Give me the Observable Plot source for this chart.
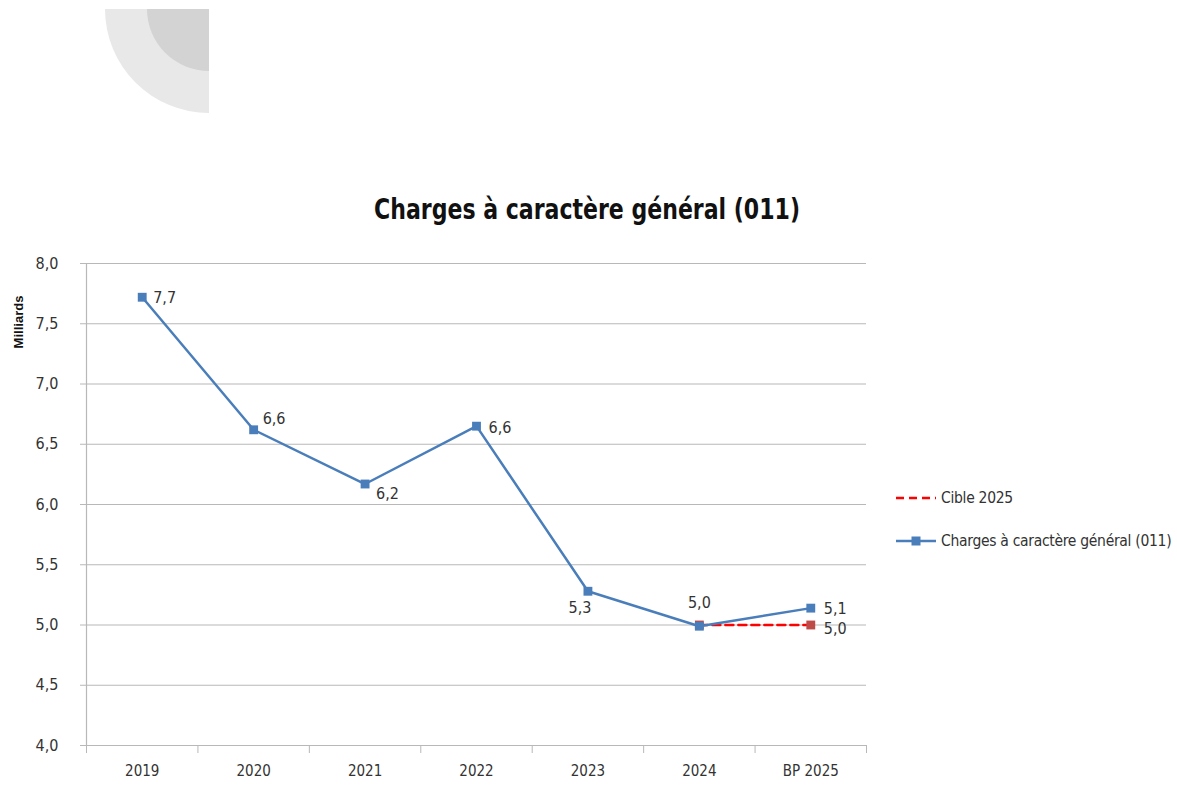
<!DOCTYPE html>
<html><head><meta charset="utf-8">
<script src="https://cdn.jsdelivr.net/npm/d3@7"></script>
<script src="https://cdn.jsdelivr.net/npm/@observablehq/plot@0.6"></script>
<style>
body{margin:0;background:#fff;width:1177px;height:786px;position:relative;overflow:hidden;font-family:"Liberation Sans Narrow","DejaVu Sans Condensed","Open Sans",sans-serif;color:#333;}
#deco1{position:absolute;left:105px;top:9px;width:104px;height:104px;background:#e8e8e8;border-bottom-left-radius:104px;}
#deco2{position:absolute;left:147px;top:9px;width:62px;height:62px;background:#d3d3d3;border-bottom-left-radius:62px;}
#title{position:absolute;top:193px;left:587px;transform:translateX(-50%) scaleX(0.875);transform-origin:center;font-size:28px;font-weight:bold;color:#111;white-space:nowrap;}
#ylab{position:absolute;left:18px;top:322px;transform:translate(-50%,-50%) rotate(-90deg);font-family:"Liberation Sans",Arial,sans-serif;font-weight:bold;font-size:13px;color:#111;white-space:nowrap;}
#chart{position:absolute;left:0;top:0;}
.leg{position:absolute;left:896px;display:flex;align-items:center;font-size:15.5px;letter-spacing:-0.3px;color:#333;white-space:nowrap;}
.leg svg{margin-right:5px;}
</style>
</head><body>
<div id="deco1"></div><div id="deco2"></div>
<div id="chart"></div>
<div id="title">Charges à caractère général (011)</div>
<div id="ylab">Milliards</div>
<div class="leg" style="top:489px"><svg width="40" height="12"><line x1="0" y1="6" x2="40" y2="6" stroke="#ff0000" stroke-width="2.5" stroke-dasharray="8,5"/></svg>Cible 2025</div>
<div class="leg" style="top:532px"><svg width="40" height="12"><line x1="0" y1="6" x2="40" y2="6" stroke="#4a7ebb" stroke-width="2.5"/><rect x="15.5" y="1.5" width="9" height="9" fill="#4a7ebb"/></svg>Charges à caractère général (011)</div>
<script>
const categories = ["2019","2020","2021","2022","2023","2024","BP 2025"];
const chargesValues = [7.72, 6.62, 6.17, 6.65, 5.28, 4.99, 5.14];
const chargesLabels = ["7,7","6,6","6,2","6,6","5,3","5,0","5,1"];
const cibleCategories = ["2024","BP 2025"];
const cibleValues = [5.0, 5.0];
const cibleLabels = ["", "5,0"];
const yTicks = [4.0, 4.5, 5.0, 5.5, 6.0, 6.5, 7.0, 7.5, 8.0];

// label placement (style only): [dx, dy, anchor]
const chargesLabelPlace = [[11,1,"start"],[9,-11,"start"],[11,10,"start"],[12,2,"start"],[-8,17,"middle"],[0,-23,"middle"],[13,1,"start"]];
const cibleLabelPlace = [[0,0,"start"],[13,4,"start"]];

const charges = categories.map((c,i)=>({i, cat:c, v:chargesValues[i], label:chargesLabels[i]}));
const cible = cibleCategories.map((c,j)=>({i:categories.indexOf(c), cat:c, v:cibleValues[j], label:cibleLabels[j]}));
const fmt = d => d.toFixed(1).replace(".", ",");
const font = '"Liberation Sans Narrow","DejaVu Sans Condensed","Open Sans",sans-serif';

const marks = [
  Plot.ruleY(yTicks, {stroke:"#b8b8b8", strokeWidth:1.2}),
  Plot.axisY({ticks: yTicks, tickFormat: fmt, tickSize: 6, tickPadding: 22, fontSize: 16, stroke:"#b8b8b8", color:"#333", label:null}),
  Plot.ruleX([-0.5], {stroke:"#b8b8b8", strokeWidth:1.2}),
  Plot.axisX({ticks: d3.range(-0.5, categories.length, 1), tickFormat: ()=>"", tickSize: 8, stroke:"#b8b8b8", label:null}),
  Plot.axisX({ticks: d3.range(0, categories.length), tickFormat: i=>categories[i], tickSize: 0, tickPadding: 20, fontSize: 15, color:"#333", label:null}),
  Plot.line(cible, {x:"i", y:"v", stroke:"#ff0000", strokeWidth:2.5, strokeDasharray:"8,5"}),
  Plot.dot(cible, {x:"i", y:"v", symbol:"square", r:5, fill:"#be4b48", stroke:null}),
  Plot.line(charges, {x:"i", y:"v", stroke:"#4a7ebb", strokeWidth:2.5}),
  Plot.dot(charges, {x:"i", y:"v", symbol:"square", r:5, fill:"#4a7ebb", stroke:null}),
  ...charges.map((d,k)=>Plot.text([d], {x:"i", y:"v", text:"label", dx:chargesLabelPlace[k][0], dy:chargesLabelPlace[k][1], textAnchor:chargesLabelPlace[k][2], fontSize:16, fill:"#333"})),
  ...cible.map((d,k)=>Plot.text([d], {x:"i", y:"v", text:"label", dx:cibleLabelPlace[k][0], dy:cibleLabelPlace[k][1], textAnchor:cibleLabelPlace[k][2], fontSize:16, fill:"#333"}))
];

const chart = Plot.plot({
  width: 1177, height: 786,
  marginLeft: 86, marginRight: 311, marginTop: 263, marginBottom: 41,
  style: {fontFamily: font, background: "transparent", overflow: "visible"},
  x: {type: "linear", domain: [-0.5, categories.length - 0.5]},
  y: {domain: [4, 8]},
  marks
});
document.getElementById("chart").appendChild(chart);
</script>
</body></html>
